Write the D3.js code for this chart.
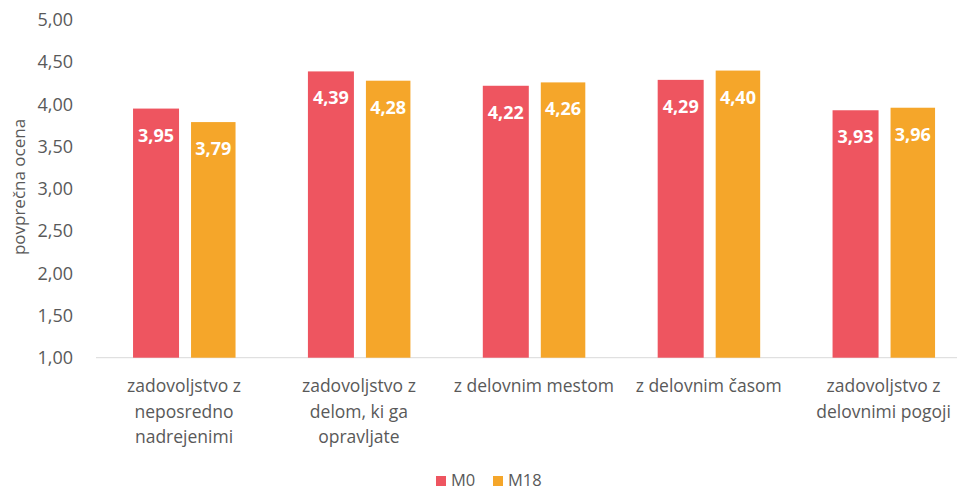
<!DOCTYPE html>
<html><head><meta charset="utf-8">
<script src="https://cdn.jsdelivr.net/npm/d3@7"></script>
<style>body{margin:0;background:#fff;} svg{display:block;}</style>
</head><body>
<svg id="c" width="957" height="491"></svg>
<script>
const categories = [
  ["zadovoljstvo z","neposredno","nadrejenimi"],
  ["zadovoljstvo z","delom, ki ga","opravljate"],
  ["z delovnim mestom"],
  ["z delovnim časom"],
  ["zadovoljstvo z","delovnimi pogoji"]
];
const seriesNames = ["M0","M18"];
const m0 = [3.95, 4.39, 4.22, 4.29, 3.93];
const m18 = [3.79, 4.28, 4.26, 4.40, 3.96];
const yTicks = [1,1.5,2,2.5,3,3.5,4,4.5,5];
const colors = ["#EE5560","#F5A62A"];

const svg = d3.select("#c");
const font = "'Open Sans', 'Noto Sans', sans-serif";
const x = d3.scaleBand().domain(d3.range(categories.length)).range([96.6, 971]);
const y = d3.scaleLinear().domain([1,5]).range([357.7, 19.9]);
const fmt = v => v.toFixed(2).replace(".", ",");

// baseline
svg.append("line").attr("x1",96).attr("x2",957).attr("y1",y(1)).attr("y2",y(1))
  .attr("stroke","#d9d9d9").attr("stroke-width",1);

// y ticks
const yAxis = d3.axisLeft(y).tickValues(yTicks).tickFormat(fmt).tickSize(0).tickPadding(0);
const ga = svg.append("g").attr("transform","translate(73,0)").call(yAxis);
ga.select(".domain").remove();
ga.selectAll("text").attr("font-family",font).attr("font-size",18).attr("fill","#595959");

// y title
svg.append("text").attr("transform",`translate(25,${187}) rotate(-90)`)
  .attr("text-anchor","middle").attr("font-family",font).attr("font-size",17).attr("fill","#595959")
  .text("povprečna ocena");

const data = [m0, m18];
const offsets = [133-184, 191-184];
const widths = [46, 44.5];
data.forEach((vals, si) => {
  const g = svg.append("g");
  g.selectAll("rect").data(vals).join("rect")
    .attr("x",(d,i)=>x(i)+x.bandwidth()/2+offsets[si])
    .attr("width",widths[si])
    .attr("y",d=>y(d)).attr("height",d=>y(1)-y(d))
    .attr("fill",colors[si]);
  g.selectAll("text").data(vals).join("text")
    .attr("x",(d,i)=>x(i)+x.bandwidth()/2+offsets[si]+widths[si]/2)
    .attr("y",d=>y(d)+33)
    .attr("text-anchor","middle").attr("font-family",font).attr("font-weight","bold")
    .attr("font-size",18).attr("fill","#fff")
    .text(fmt);
});

// category labels
categories.forEach((lines,i)=>{
  const t = svg.append("text").attr("text-anchor","middle").attr("font-family",font)
    .attr("font-size",17.5).attr("fill","#595959");
  lines.forEach((l,j)=>{
    t.append("tspan").attr("x",x(i)+x.bandwidth()/2).attr("y",392+j*25.5).text(l);
  });
});

// legend
const leg = [{x:436, tx:451}, {x:493, tx:508}];
seriesNames.forEach((n,i)=>{
  svg.append("rect").attr("x",leg[i].x).attr("y",476).attr("width",10).attr("height",10).attr("fill",colors[i]);
  svg.append("text").attr("x",leg[i].tx).attr("y",486).attr("font-family",font).attr("font-size",16.5)
    .attr("fill","#595959").text(n);
});
</script>
</body></html>
